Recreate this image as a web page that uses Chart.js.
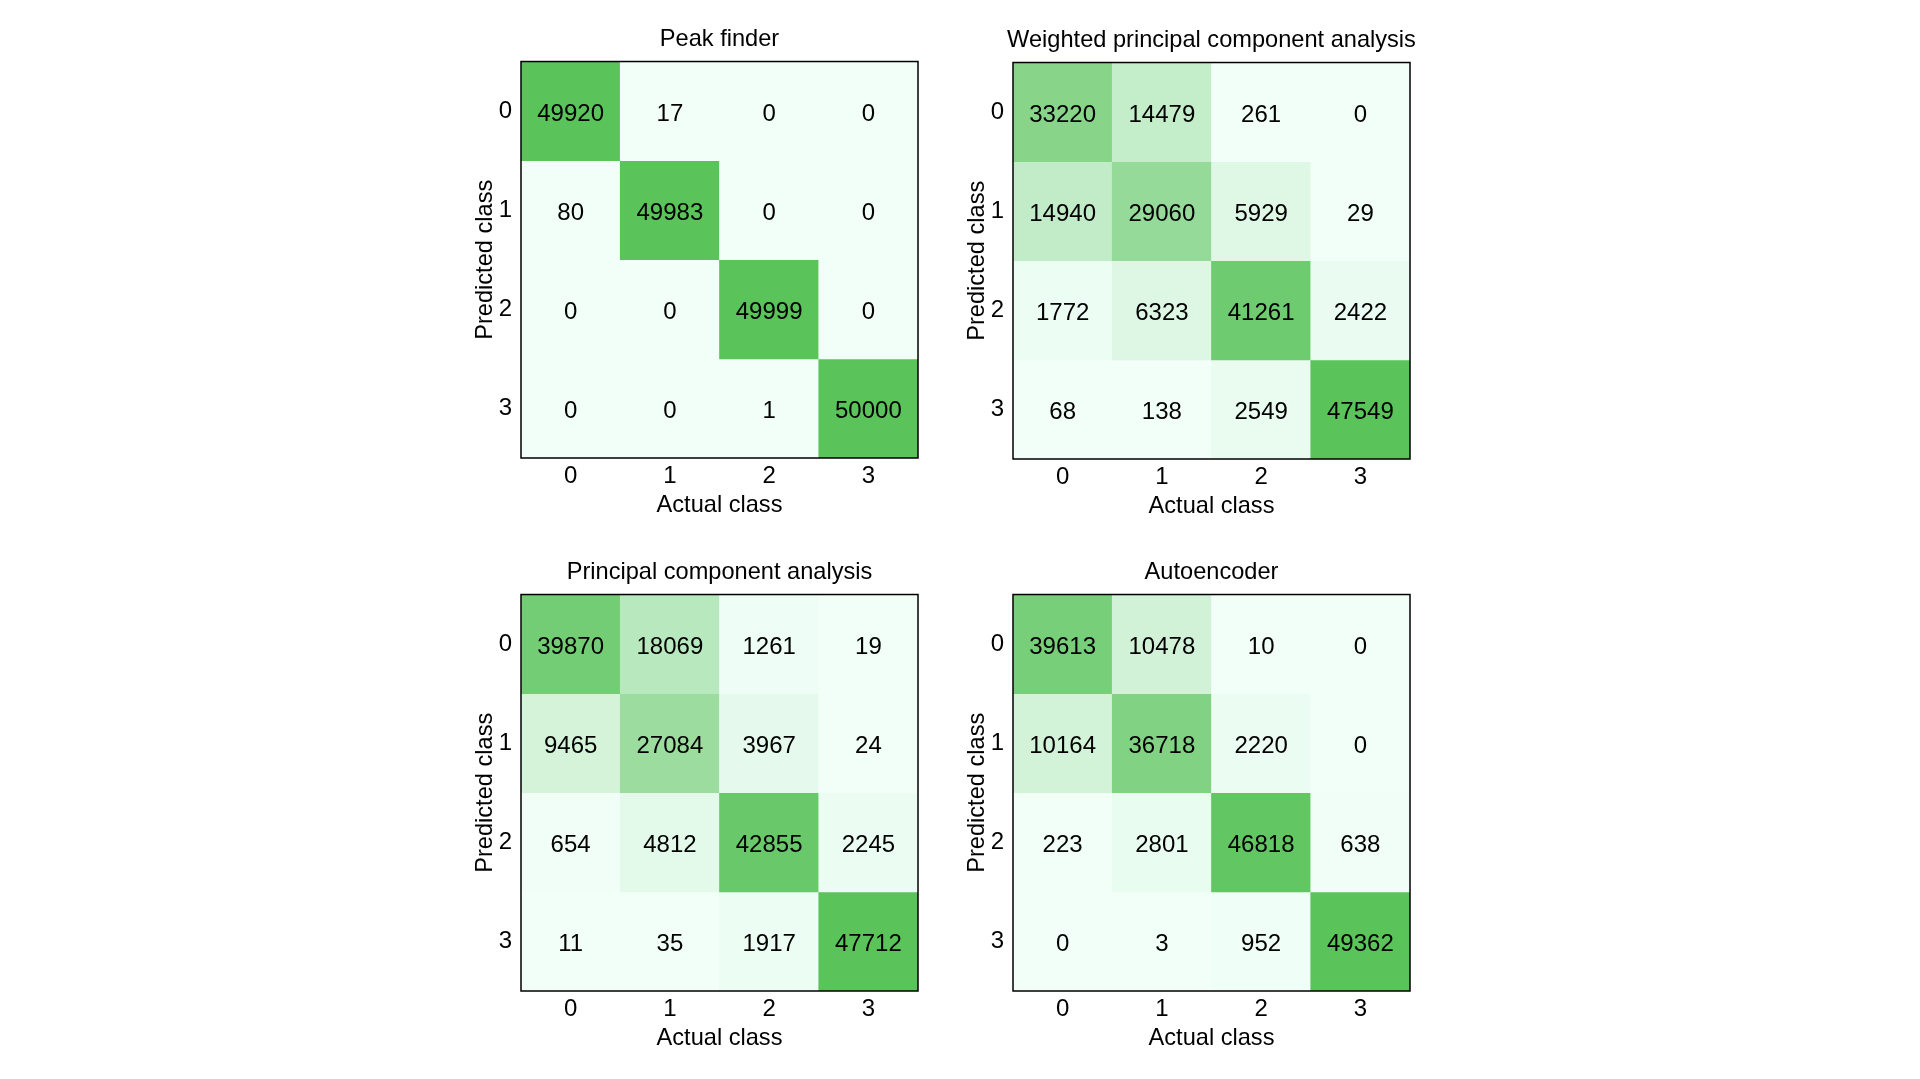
<!DOCTYPE html>
<html>
<head>
<meta charset="utf-8">
<title>Confusion matrices</title>
<script src="https://cdn.jsdelivr.net/npm/chart.js@4.4.0/dist/chart.umd.min.js"></script>
<style>
  html, body { margin: 0; padding: 0; background: #fff; }
  body { width: 1920px; height: 1079px; position: relative; overflow: hidden; }
  canvas { position: absolute; }
</style>
</head>
<body>
<canvas id="c1" width="525" height="522" style="left:453px;top:0px"></canvas>
<canvas id="c2" width="525" height="522" style="left:945px;top:1px"></canvas>
<canvas id="c3" width="525" height="522" style="left:453px;top:533px"></canvas>
<canvas id="c4" width="525" height="522" style="left:945px;top:533px"></canvas>
<script>
// rows = predicted class, columns = actual class
const classes = ['0', '1', '2', '3'];

const peakFinder = [
  [49920, 17, 0, 0],
  [80, 49983, 0, 0],
  [0, 0, 49999, 0],
  [0, 0, 1, 50000]
];
const weightedPca = [
  [33220, 14479, 261, 0],
  [14940, 29060, 5929, 29],
  [1772, 6323, 41261, 2422],
  [68, 138, 2549, 47549]
];
const pca = [
  [39870, 18069, 1261, 19],
  [9465, 27084, 3967, 24],
  [654, 4812, 42855, 2245],
  [11, 35, 1917, 47712]
];
const autoencoder = [
  [39613, 10478, 10, 0],
  [10164, 36718, 2220, 0],
  [223, 2801, 46818, 638],
  [0, 3, 952, 49362]
];

const titles = ['Peak finder', 'Weighted principal component analysis',
                'Principal component analysis', 'Autoencoder'];
const matrices = [peakFinder, weightedPca, pca, autoencoder];

const FONT = "'Liberation Sans', Arial, sans-serif";
Chart.defaults.color = '#000';
Chart.defaults.font.family = FONT;

// white-ish mint -> green
const lo = [242, 255, 249];
const hi = [90, 195, 90];
function cellColor(v, max) {
  const t = max ? v / max : 0;
  const c = lo.map((a, i) => Math.round(a + (hi[i] - a) * t));
  return `rgb(${c[0]},${c[1]},${c[2]})`;
}

const cellText = {
  id: 'cellText',
  afterDatasetsDraw(chart) {
    const ctx = chart.ctx;
    const m = chart.options.plugins.cellText.matrix;
    ctx.save();
    ctx.font = '24px ' + FONT;
    ctx.fillStyle = '#000';
    ctx.textAlign = 'center';
    ctx.textBaseline = 'middle';
    chart.data.datasets.forEach((ds, r) => {
      chart.getDatasetMeta(r).data.forEach((bar, c) => {
        ctx.fillText(String(m[r][c]), bar.x, (bar.y + bar.base) / 2 + 3);
      });
    });
    // box around the matrix
    const a = chart.chartArea;
    ctx.strokeStyle = '#000';
    ctx.lineWidth = 1.5;
    ctx.strokeRect(a.left, a.top, a.right - a.left, a.bottom - a.top);
    ctx.restore();
  }
};

function makeChart(id, title, m) {
  const max = Math.max(...m.flat());
  const datasets = m.map((row, r) => ({
    data: row.map(() => [r - 0.5, r + 0.5]),
    backgroundColor: row.map(v => cellColor(v, max)),
    borderWidth: 0,
    barPercentage: 1,
    categoryPercentage: 1,
    grouped: false
  }));

  new Chart(document.getElementById(id), {
    type: 'bar',
    data: { labels: classes, datasets: datasets },
    options: {
      responsive: false,
      animation: false,
      layout: { padding: { left: 8, right: 0, top: 0, bottom: 0 } },
      plugins: {
        legend: { display: false },
        tooltip: { enabled: false },
        title: {
          display: true,
          text: title,
          color: '#000',
          font: { size: 23.6, weight: 'normal', family: FONT },
          padding: { top: 25, bottom: 8.2 }
        },
        cellText: { matrix: m }
      },
      scales: {
        x: {
          type: 'category',
          grid: { display: false, drawTicks: false },
          border: { display: false },
          ticks: { font: { size: 24 }, padding: 4, color: '#000' },
          title: {
            display: true, text: 'Actual class', color: '#000',
            font: { size: 23.6 }, padding: { top: 0, bottom: 2.5 }
          },
          afterFit(s) { s.height = 64; }
        },
        y: {
          type: 'linear',
          min: -0.5,
          max: 3.5,
          reverse: true,
          grid: { display: false, drawTicks: false },
          border: { display: false },
          afterBuildTicks(s) { s.ticks = [0, 1, 2, 3].map(v => ({ value: v })); },
          ticks: { font: { size: 24 }, padding: 9, color: '#000',
                   callback: v => classes[v] },
          title: {
            display: true, text: 'Predicted class', color: '#000',
            font: { size: 23.6 }, padding: { top: 10, bottom: 0 }
          },
          afterFit(s) { s.width = 60; }
        },
        yRight: {
          type: 'linear',
          position: 'right',
          display: true,
          grid: { display: false, drawTicks: false },
          border: { display: false },
          ticks: { display: false },
          afterFit(s) { s.width = 60; }
        }
      }
    },
    plugins: [cellText]
  });
}

['c1', 'c2', 'c3', 'c4'].forEach((id, i) => makeChart(id, titles[i], matrices[i]));
</script>
</body>
</html>
